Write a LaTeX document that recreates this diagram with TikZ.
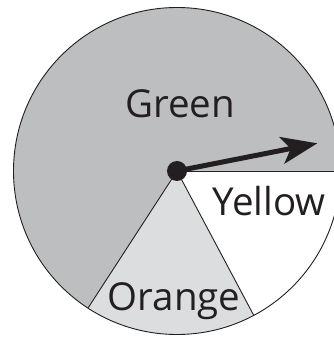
\documentclass[tikz,border=0pt]{standalone}
\usepackage{fontspec}
\setmainfont{Open Sans}
\usetikzlibrary{arrows.meta}
\definecolor{greensec}{HTML}{BCBEC0}
\definecolor{orangesec}{HTML}{DCDDDE}
\definecolor{ink}{HTML}{231F20}
\tikzset{
  edge/.style={draw=ink, line width=0.9pt},
  label/.style={text=ink, font=\fontsize{38.5}{42}\selectfont, anchor=base, inner sep=0pt},
  pointer/.style={draw=ink, line width=5pt, -{Stealth[length=36pt,width=27pt,inset=9pt]}},
  hubdot/.style={circle, fill=ink, minimum size=20pt, inner sep=0pt}
}
\begin{document}
\begin{tikzpicture}[x=1pt,y=1pt]
\useasboundingbox (0,0) rectangle (334,337);
\clip (0,0) rectangle (334,337);
\def\R{163.5}
\coordinate (C) at (177,166);
% sectors
\fill[greensec] (C) -- ++(0:\R) arc[start angle=0,end angle=237,radius=\R] -- cycle;
\fill[orangesec] (C) -- ++(237:\R) arc[start angle=237,end angle=298,radius=\R] -- cycle;
\fill[white] (C) -- ++(298:\R) arc[start angle=298,end angle=360,radius=\R] -- cycle;
% outline and dividers
\draw[edge] (C) circle[radius=\R];
\path (C) ++(0:\R) coordinate (e0) (C) ++(237:\R) coordinate (e1) (C) ++(298:\R) coordinate (e2);
\draw[edge] (C) -- (e0);
\draw[edge] (C) -- (e1);
\draw[edge] (C) -- (e2);
% labels
\node[label] (green) at (180,219) {Green};
\node[label] (yellow) at (269,121) {Yellow};
\node[label] (orange) at (174,26) {Orange};
% pointer
\node[hubdot] (hub) at (C) {};
\coordinate (tip) at (317.3,193.7);
\draw[pointer] (hub.center) -- (tip);
\end{tikzpicture}
\end{document}
